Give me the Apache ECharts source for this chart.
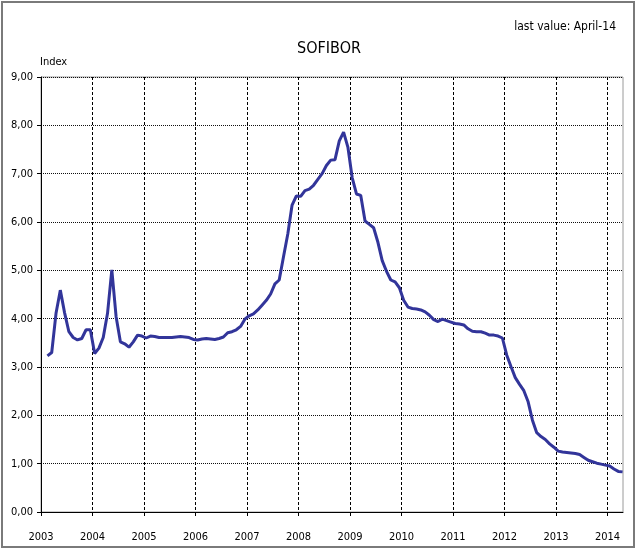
<!DOCTYPE html>
<html>
<head>
<meta charset="utf-8">
<title>SOFIBOR</title>
<script src="https://cdn.jsdelivr.net/npm/echarts@6/dist/echarts.min.js"></script>
<style>
  html, body { margin: 0; padding: 0; background: #fff; }
  #chart { width: 637px; height: 549px; }
</style>
</head>
<body>
<div id="chart"></div>
<script>
// monthly SOFIBOR index, first value Feb 2003, last value Apr 2014
var startYear = 2003, startMonth = 2;
var sofibor = [
  // 2003 (Feb-Dec)
  3.23, 3.30, 4.11, 4.59, 4.12, 3.73, 3.61, 3.56, 3.59, 3.77, 3.77,
  // 2004
  3.28, 3.39, 3.61, 4.11, 5.01, 4.04, 3.52, 3.48, 3.41, 3.52, 3.66, 3.64,
  // 2005
  3.60, 3.64, 3.63, 3.61, 3.61, 3.61, 3.61, 3.62, 3.63, 3.62, 3.61, 3.57,
  // 2006
  3.56, 3.58, 3.59, 3.58, 3.57, 3.59, 3.62, 3.71, 3.73, 3.77, 3.84, 3.99,
  // 2007
  4.06, 4.10, 4.18, 4.28, 4.38, 4.51, 4.72, 4.80, 5.28, 5.75, 6.35, 6.54,
  // 2008
  6.53, 6.65, 6.68, 6.76, 6.88, 7.00, 7.17, 7.28, 7.29, 7.68, 7.86, 7.55,
  // 2009
  6.92, 6.58, 6.55, 6.02, 5.95, 5.88, 5.58, 5.20, 4.98, 4.80, 4.76, 4.64,
  // 2010
  4.38, 4.24, 4.21, 4.20, 4.18, 4.14, 4.07, 3.98, 3.94, 3.99, 3.96, 3.93,
  // 2011
  3.90, 3.89, 3.87, 3.79, 3.74, 3.73, 3.73, 3.70, 3.66, 3.66, 3.64, 3.60,
  // 2012
  3.25, 3.01, 2.78, 2.64, 2.51, 2.28, 1.90, 1.64, 1.56, 1.50, 1.41, 1.34,
  // 2013
  1.26, 1.24, 1.23, 1.22, 1.21, 1.19, 1.13, 1.07, 1.04, 1.01, 0.99, 0.97,
  // 2014 (Jan-Apr)
  0.95, 0.89, 0.84, 0.83
];
var yearTicks = [2003, 2004, 2005, 2006, 2007, 2008, 2009, 2010, 2011, 2012, 2013, 2014];
var xMin = 2003, xMax = 2014.30;
var yMin = 0, yMax = 9, yStep = 1;

var FONT = "'Liberation Sans Narrow', 'DejaVu Sans Condensed', 'Liberation Sans', sans-serif";

// month index -> decimal year (middle of month)
var points = sofibor.map(function (v, i) {
  var m = startMonth - 1 + i;
  var t = startYear + Math.floor(m / 12) + ((m % 12) + 0.5) / 12;
  return [t, v];
});

var chart = echarts.init(document.getElementById('chart'));

var option = {
  animation: false,
  backgroundColor: '#fff',
  grid: {
    left: 41, right: 14, top: 77, bottom: 37,
    show: true, borderColor: '#9a9a9a', borderWidth: 1
  },
  graphic: [
    {
      type: 'rect', silent: true,
      shape: { x: 2, y: 2, width: 632, height: 545 },
      style: { fill: 'none', stroke: '#7a7a7a', lineWidth: 2 }
    },
    {
      type: 'text', x: 329, y: 49,
      style: { text: 'SOFIBOR', font: '16px ' + FONT, fill: '#000', textAlign: 'center', textVerticalAlign: 'middle' }
    },
    {
      type: 'text', x: 616, y: 27,
      style: { text: 'last value: April-14', font: '12px ' + FONT, fill: '#000', textAlign: 'right', textVerticalAlign: 'middle' }
    },
    {
      type: 'text', x: 40, y: 62,
      style: { text: 'Index', font: '11px ' + FONT, fill: '#000', textAlign: 'left', textVerticalAlign: 'middle' }
    }
  ],
  xAxis: {
    type: 'value',
    min: xMin, max: xMax, interval: 1,
    axisLine: { show: true, onZero: false, lineStyle: { color: '#000', width: 1 } },
    axisTick: { show: true, length: 4, customValues: yearTicks, lineStyle: { color: '#000' } },
    axisLabel: {
      customValues: yearTicks,
      margin: 20, color: '#000', fontSize: 11, fontFamily: FONT,
      formatter: function (v) { return String(Math.round(v)); }
    },
    splitLine: {
      show: true, showMinLine: false,
      lineStyle: { color: '#000', type: [3, 2], width: 1 }
    }
  },
  yAxis: {
    type: 'value',
    min: yMin, max: yMax, interval: yStep,
    axisLine: { show: true, lineStyle: { color: '#000', width: 1 } },
    axisTick: { show: true, length: 4, lineStyle: { color: '#000' } },
    axisLabel: {
      margin: 8, color: '#000', fontSize: 11, fontFamily: FONT,
      formatter: function (v) { return v.toFixed(2).replace('.', ','); }
    },
    splitLine: {
      show: true, showMinLine: false,
      lineStyle: { color: '#111', type: [1, 1], width: 1 }
    }
  },
  series: [
    {
      name: 'SOFIBOR',
      type: 'line',
      data: points,
      showSymbol: false,
      smooth: false,
      lineStyle: { color: '#32359a', width: 3 },
      z: 3
    }
  ]
};

chart.setOption(option);
</script>
</body>
</html>
